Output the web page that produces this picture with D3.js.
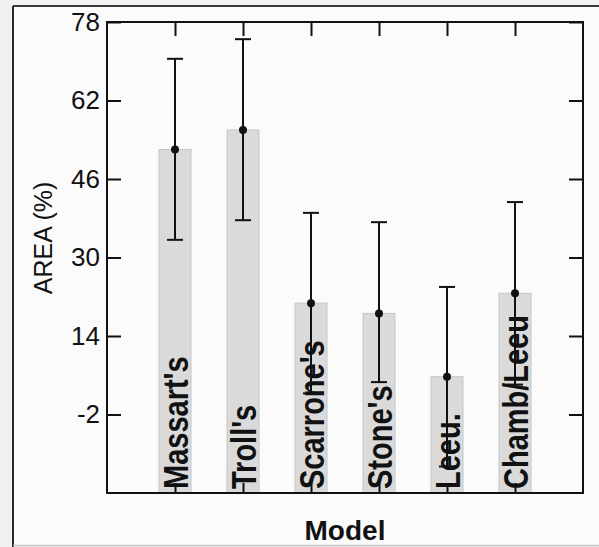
<!DOCTYPE html>
<html>
<head>
<meta charset="utf-8">
<script src="https://d3js.org/d3.v7.min.js"></script>
<style>
  body { margin: 0; background: #f1f1f1; overflow: hidden; }
  text { font-family: 'Liberation Sans', Arial, sans-serif; fill: #111; }
</style>
</head>
<body>
<svg width="599" height="547"></svg>
<script>
// DATA ========================================================
const models = ["Massart's", "Troll's", "Scarrone's", "Stone's", "Leeu.", "Chamb/Leeu"];
const means  = [52, 56, 20.7, 18.6, 5.7, 22.7];
const upper  = [70.5, 74.5, 39.1, 37.2, 24, 41.3];
const lower  = [33.6, 37.6, 2.3, 4.6, -12.6, 4.1];
const yTicks = [-2, 14, 30, 46, 62, 78];

const rows = models.map((m, i) => ({model: m, mean: means[i], hi: upper[i], lo: lower[i]}));

// LAYOUT ======================================================
const svg = d3.select("svg");
const plot = {left: 107, top: 22, right: 583, bottom: 493};

const x = d3.scalePoint()
    .domain(models)
    .range([plot.left, plot.right])
    .padding(1);

const y = d3.scaleLinear()
    .domain([-18, 78])
    .range([plot.bottom, plot.top]);

// outer frame
svg.append("rect")
    .attr("x", 13).attr("y", 6)
    .attr("width", 590).attr("height", 539)
    .attr("fill", "#fbfbfb");
svg.append("line")
    .attr("x1", 13).attr("x2", 599).attr("y1", 6).attr("y2", 6)
    .attr("stroke", "#3a3a3a").attr("stroke-width", 2);
svg.append("line")
    .attr("x1", 13).attr("x2", 13).attr("y1", 6).attr("y2", 547)
    .attr("stroke", "#2a2a2a").attr("stroke-width", 2);
svg.append("line")
    .attr("x1", 13).attr("x2", 599).attr("y1", 545.5).attr("y2", 545.5)
    .attr("stroke", "#c4c4c4").attr("stroke-width", 1.5);

// BARS ========================================================
const barW = 32;
svg.append("g")
    .selectAll("rect")
    .data(rows)
    .join("rect")
    .attr("x", d => x(d.model) - barW / 2)
    .attr("y", d => y(d.mean))
    .attr("width", barW)
    .attr("height", d => plot.bottom - y(d.mean))
    .attr("fill", "#dadada")
    .attr("stroke", "#c6c6c6")
    .attr("stroke-width", 1);

// ERROR BARS ==================================================
const err = svg.append("g").attr("stroke", "#111").attr("stroke-width", 2);
err.selectAll(".whisker")
    .data(rows)
    .join("line")
    .attr("class", "whisker")
    .attr("x1", d => x(d.model)).attr("x2", d => x(d.model))
    .attr("y1", d => y(d.hi)).attr("y2", d => y(d.lo));
err.selectAll(".cap-hi")
    .data(rows)
    .join("line")
    .attr("class", "cap-hi")
    .attr("x1", d => x(d.model) - 8).attr("x2", d => x(d.model) + 8)
    .attr("y1", d => y(d.hi)).attr("y2", d => y(d.hi));
err.selectAll(".cap-lo")
    .data(rows)
    .join("line")
    .attr("class", "cap-lo")
    .attr("x1", d => x(d.model) - 8).attr("x2", d => x(d.model) + 8)
    .attr("y1", d => y(d.lo)).attr("y2", d => y(d.lo));

svg.append("g")
    .selectAll("circle")
    .data(rows)
    .join("circle")
    .attr("cx", d => x(d.model))
    .attr("cy", d => y(d.mean))
    .attr("r", 4)
    .attr("fill", "#111");

// CATEGORY LABELS (inside bars) ===============================
svg.append("g")
    .selectAll("text")
    .data(rows)
    .join("text")
    .attr("transform", d => `translate(${x(d.model)},${plot.bottom - 4}) rotate(-90) scale(1,1.2)`)
    .attr("dy", "0.36em")
    .attr("font-size", 29)
    .attr("font-weight", "bold")
    .text(d => d.model);

// AXES ========================================================
function styleAxis(g) {
    g.select(".domain").remove();
    g.selectAll(".tick line").attr("stroke", "#111").attr("stroke-width", 2);
}

svg.append("g")
    .attr("transform", `translate(${plot.left},0)`)
    .call(d3.axisLeft(y).tickValues(yTicks).tickSize(-14).tickPadding(7).tickFormat(d => String(d)))
    .call(styleAxis)
    .call(g => g.selectAll(".tick text")
        .attr("font-size", 26)
        .attr("font-family", "'Liberation Sans', Arial, sans-serif")
        .attr("fill", "#111"));

svg.append("g")
    .attr("transform", `translate(${plot.right},0)`)
    .call(d3.axisRight(y).tickValues(yTicks).tickSize(-14).tickFormat(""))
    .call(styleAxis);

svg.append("g")
    .attr("transform", `translate(0,${plot.top})`)
    .call(d3.axisTop(x).tickSize(-14).tickFormat(""))
    .call(styleAxis);

svg.append("g")
    .attr("transform", `translate(0,${plot.bottom})`)
    .call(d3.axisBottom(x).tickSize(-10).tickFormat(""))
    .call(styleAxis);

// plot frame
svg.append("rect")
    .attr("x", plot.left).attr("y", plot.top)
    .attr("width", plot.right - plot.left)
    .attr("height", plot.bottom - plot.top)
    .attr("fill", "none")
    .attr("stroke", "#111")
    .attr("stroke-width", 2);

// TITLES ======================================================
svg.append("text")
    .attr("x", (plot.left + plot.right) / 2)
    .attr("y", 540)
    .attr("text-anchor", "middle")
    .attr("font-size", 28)
    .attr("font-weight", "bold")
    .text("Model");

svg.append("text")
    .attr("transform", "translate(52,238) rotate(-90)")
    .attr("text-anchor", "middle")
    .attr("font-size", 25)
    .attr("fill", "#222")
    .text("AREA (%)");
</script>
</body>
</html>
